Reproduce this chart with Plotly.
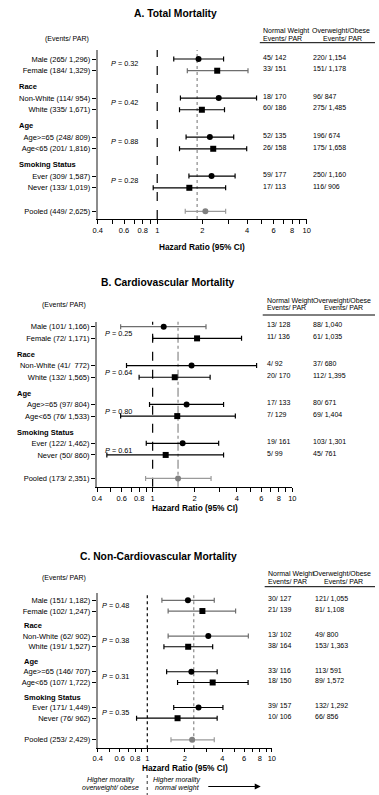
import math
import plotly.graph_objects as go

W, H = 379, 795
FONT = "Arial, 'Liberation Sans', sans-serif"

row_names = ["Male", "Female", "Non-White", "White", "Age>=65", "Age<65", "Ever", "Never", "Pooled"]
group_names = ["Sex", "Race", "Age", "Smoking Status"]
x_tick_vals = [0.4, 0.5, 0.6, 0.7, 0.8, 0.9, 1, 2, 3, 4, 5, 6, 7, 8, 9, 10]
x_tick_text = ["0.4", "", "0.6", "", "0.8", "", "1", "2", "", "4", "", "6", "", "8", "", "10"]

# ---------------- Panel A : Total mortality ----------------
A_title = "A. Total Mortality"
A_events = ["265/ 1,296", "184/ 1,329", "114/ 954", "335/ 1,671", "248/ 809",
            "201/ 1,816", "309/ 1,587", "133/ 1,019", "449/ 2,625"]
A_hr = [1.89, 2.52, 2.58, 1.99, 2.25, 2.37, 2.31, 1.64, 2.10]
A_lo = [1.29, 1.59, 1.43, 1.41, 1.56, 1.41, 1.63, 0.94, 1.54]
A_hi = [2.78, 4.05, 4.62, 2.82, 3.25, 3.97, 3.32, 2.87, 2.87]
A_p = ["0.32", "0.42", "0.88", "0.28"]
A_normal = ["45/ 142", "33/ 151", "18/ 170", "60/ 186", "52/ 135", "26/ 158", "59/ 177", "17/ 113"]
A_over = ["220/ 1,154", "151/ 1,178", "96/ 847", "275/ 1,485", "196/ 674", "175/ 1,658", "250/ 1,160", "116/ 906"]
A_ref = 1.85

# ---------------- Panel B : Cardiovascular mortality ----------------
B_title = "B. Cardiovascular Mortality"
B_events = ["101/ 1,166", "72/ 1,171", "41/  772", "132/ 1,565", "97/ 804",
            "76/ 1,533", "122/ 1,462", "50/ 860", "173/ 2,351"]
B_hr = [1.20, 2.08, 1.90, 1.44, 1.75, 1.50, 1.64, 1.24, 1.52]
B_lo = [0.59, 1.00, 0.65, 0.80, 0.95, 0.59, 0.90, 0.47, 0.89]
B_hi = [2.41, 4.33, 5.55, 2.58, 3.22, 3.91, 2.97, 3.22, 2.62]
B_p = ["0.25", "0.64", "0.80", "0.61"]
B_normal = ["13/ 128", "11/ 136", "4/ 92", "20/ 170", "17/ 133", "7/ 129", "19/ 161", "5/ 99"]
B_over = ["88/ 1,040", "61/ 1,035", "37/ 680", "112/ 1,395", "80/ 671", "69/ 1,404", "103/ 1,301", "45/ 761"]
B_ref = 1.52

# ---------------- Panel C : Non-cardiovascular mortality ----------------
C_title = "C. Non-Cardiovascular Mortality"
C_events = ["151/ 1,182", "102/ 1,247", "62/ 902", "191/ 1,527", "146/ 707",
            "107/ 1,722", "171/ 1,449", "76/ 962", "253/ 2,429"]
C_hr = [2.12, 2.77, 3.09, 2.13, 2.26, 3.35, 2.58, 1.75, 2.29]
C_lo = [1.31, 1.47, 1.47, 1.36, 1.43, 1.75, 1.63, 0.82, 1.55]
C_hi = [3.45, 5.12, 6.48, 3.35, 3.64, 6.45, 4.05, 3.64, 3.45]
C_p = ["0.48", "0.38", "0.31", "0.35"]
C_normal = ["30/ 127", "21/ 139", "13/ 102", "38/ 164", "33/ 116", "18/ 150", "39/ 157", "10/ 106"]
C_over = ["121/ 1,055", "81/ 1,108", "49/ 800", "153/ 1,363", "113/ 591", "89/ 1,572", "132/ 1,292", "66/ 856"]
C_ref = 2.36

panels_data = [
    (A_title, A_events, A_hr, A_lo, A_hi, A_p, A_normal, A_over, A_ref),
    (B_title, B_events, B_hr, B_lo, B_hi, B_p, B_normal, B_over, B_ref),
    (C_title, C_events, C_hr, C_lo, C_hi, C_p, C_normal, C_over, C_ref),
]

# ---------------- layout (pixel geometry of each panel) ----------------
panels_layout = [
    dict(xdom=(95, 309), ytop=50, ybot=219, row0=59, unit=11.72, title=(174.5, 14), hr_y=247,
         head_x=12, ev=(88.5, 39), p_x=106.5, p_off=0.35, col1=262.7, col2=313, over_c=344,
         hdr=(31, 38.8), rule=(261, 42.7), one_dash="dash", ref_dash="dot", gray_rows=[1], ticklen=4),
    dict(xdom=(94.3, 294.3), ytop=321.7, ybot=486.7, row0=326.7, unit=11.67, title=(166.7, 282.7), hr_y=508,
         head_x=10, ev=(85.5, 305), p_x=100.7, p_off=0.6, col1=266, col2=313.3, over_c=345,
         hdr=(300.7, 307.8), rule=(264, 315), one_dash="dash", ref_dash="dashdot", gray_rows=[0], ticklen=4),
    dict(xdom=(95, 273.3), ytop=592.7, ybot=748.3, row0=600.3, unit=10.73, title=(157.7, 556), hr_y=767.5,
         head_x=17, ev=(85.5, 578.3), p_x=97.5, p_off=0.45, col1=267.3, col2=316, over_c=345,
         hdr=(574, 581.3), rule=(266, 586.7), one_dash="dot", ref_dash="dot", gray_rows=[0, 1, 2], ticklen=3),
]

# row positions (in row units): pairs within a group 1 apart, groups 3.33 apart, pooled last
GROUP_STEP = 3.33
POOLED_GAP = 2.01
row_pos = []
for g in range(4):
    row_pos += [g * GROUP_STEP, g * GROUP_STEP + 1]
row_pos.append(row_pos[-1] + POOLED_GAP)
symbols = ["circle", "square"] * 4 + ["circle"]


def px(x):
    return x / W


def py(y):
    return 1 - y / H


fig = go.Figure()
annotations = []
shapes = []
layout_axes = {}

for i, (data, geo) in enumerate(zip(panels_data, panels_layout)):
    title, events, hr, lo, hi, pvals, normal, over, ref = data
    sfx = "" if i == 0 else str(i + 1)
    xname, yname = "x" + sfx, "y" + sfx
    labels = [f"{n} ({e})" for n, e in zip(row_names, events)]

    for r in range(len(hr)):
        pooled = r == len(hr) - 1
        if pooled:
            lc, mc, ms = "#9a9a9a", "#808080", 6
        elif r in geo["gray_rows"]:
            lc, mc, ms = "#6e6e6e", "black", 6
        else:
            lc, mc, ms = "black", "black", 6
        fig.add_trace(go.Scatter(
            x=[hr[r]], y=[row_pos[r]], mode="markers",
            marker=dict(symbol=symbols[r], size=ms, color=mc),
            error_x=dict(type="data", symmetric=False, array=[hi[r] - hr[r]],
                         arrayminus=[hr[r] - lo[r]], color=lc, thickness=1.2, width=2.5),
            xaxis=xname, yaxis=yname, showlegend=False, cliponaxis=False, hoverinfo="skip"))

    top_u = (geo["ytop"] - geo["row0"]) / geo["unit"]
    bot_u = (geo["ybot"] - geo["row0"]) / geo["unit"]
    layout_axes["xaxis" + sfx] = dict(
        type="log", range=[math.log10(0.4), math.log10(10)],
        domain=[px(geo["xdom"][0]), px(geo["xdom"][1])], anchor=yname,
        showline=True, linecolor="black", linewidth=1.2, ticks="outside", ticklen=geo["ticklen"],
        tickwidth=1, tickcolor="black", tickvals=x_tick_vals, ticktext=x_tick_text,
        tickfont=dict(size=7.5, color="black"), showgrid=False, zeroline=False, fixedrange=True)
    layout_axes["yaxis" + sfx] = dict(
        range=[bot_u, top_u], domain=[py(geo["ybot"]), py(geo["ytop"])], anchor=xname,
        showline=True, linecolor="#8c8c8c", linewidth=2, ticks="outside", ticklen=4,
        tickwidth=1, tickcolor="black", tickvals=row_pos, ticktext=labels,
        tickfont=dict(size=7.5, color="black"), showgrid=False, zeroline=False, fixedrange=True)

    # reference lines
    shapes.append(dict(type="line", xref=xname, yref=yname + " domain", x0=1, x1=1, y0=0, y1=1,
                       line=dict(color="black", width=1.2, dash=geo["one_dash"]), layer="below"))
    shapes.append(dict(type="line", xref=xname, yref=yname + " domain", x0=ref, x1=ref, y0=0, y1=1,
                       line=dict(color="#9a9a9a", width=1.4, dash=geo["ref_dash"]), layer="below"))

    # title
    annotations.append(dict(text=f"<b>{title}</b>", x=px(geo["title"][0]), y=py(geo["title"][1]),
                            xref="paper", yref="paper", showarrow=False, xanchor="center",
                            yanchor="middle", font=dict(size=10.3, color="black")))
    # x-axis title
    xc = (geo["xdom"][0] + geo["xdom"][1]) / 2
    annotations.append(dict(text="<b>Hazard Ratio (95% CI)</b>", x=px(xc), y=py(geo["hr_y"]),
                            xref="paper", yref="paper", showarrow=False, xanchor="center",
                            yanchor="middle", font=dict(size=8.3, color="black")))
    # (Events/ PAR)
    annotations.append(dict(text="(Events/ PAR)", x=px(geo["ev"][0]), y=py(geo["ev"][1]),
                            xref="paper", yref="paper", showarrow=False, xanchor="right",
                            yanchor="middle", font=dict(size=7, color="black")))
    # group headers and P values
    for g, gname in enumerate(group_names):
        first = row_pos[2 * g]
        annotations.append(dict(text=f"<b>{gname}</b>", x=px(geo["head_x"]), y=first - 0.95,
                                xref="paper", yref=yname, showarrow=False, xanchor="left",
                                yanchor="middle", font=dict(size=7.5, color="black")))
        annotations.append(dict(text=f"<i>P</i> = {pvals[g]}", x=px(geo["p_x"]), y=first + geo["p_off"],
                                xref="paper", yref=yname, showarrow=False, xanchor="left",
                                yanchor="middle", font=dict(size=7.3, color="black")))
    # right-hand columns
    annotations.append(dict(text="Normal Weight", x=px(geo["col1"]), y=py(geo["hdr"][0]), xref="paper",
                            yref="paper", showarrow=False, xanchor="left", yanchor="middle",
                            font=dict(size=7, color="black")))
    annotations.append(dict(text="Events/ PAR", x=px(geo["col1"]), y=py(geo["hdr"][1]), xref="paper",
                            yref="paper", showarrow=False, xanchor="left", yanchor="middle",
                            font=dict(size=7, color="black")))
    annotations.append(dict(text="Overweight/Obese", x=px(geo["over_c"]), y=py(geo["hdr"][0]), xref="paper",
                            yref="paper", showarrow=False, xanchor="center", yanchor="middle",
                            font=dict(size=7, color="black")))
    annotations.append(dict(text="Events/ PAR", x=px(geo["over_c"] + 1.5), y=py(geo["hdr"][1]), xref="paper",
                            yref="paper", showarrow=False, xanchor="center", yanchor="middle",
                            font=dict(size=7, color="black")))
    shapes.append(dict(type="line", xref="paper", yref="paper", x0=px(geo["rule"][0]), x1=1,
                       y0=py(geo["rule"][1]), y1=py(geo["rule"][1]), line=dict(color="black", width=1)))
    for r in range(len(normal)):
        annotations.append(dict(text=normal[r], x=px(geo["col1"]), y=row_pos[r] - 0.15, xref="paper",
                                yref=yname, showarrow=False, xanchor="left", yanchor="middle",
                                font=dict(size=7, color="black")))
        annotations.append(dict(text=over[r], x=px(geo["col2"]), y=row_pos[r] - 0.15, xref="paper",
                                yref=yname, showarrow=False, xanchor="left", yanchor="middle",
                                font=dict(size=7, color="black")))

# bottom explanatory legend under panel C
for txt, cx, cy in [("Higher morality", 108.5, 780), ("overweight/ obese", 108.5, 788),
                    ("Higher morality", 176.5, 780), ("normal weight", 177, 788)]:
    annotations.append(dict(text=f"<i>{txt}</i>", x=px(cx), y=py(cy), xref="paper", yref="paper",
                            showarrow=False, xanchor="center", yanchor="middle",
                            font=dict(size=7, color="black")))
shapes.append(dict(type="line", xref="paper", yref="paper", x0=px(145.7), x1=px(145.7),
                   y0=py(775), y1=py(795), line=dict(color="#555555", width=1.2, dash="dot")))
annotations.append(dict(text="", x=px(262), y=py(786.5), xref="paper", yref="paper", showarrow=True,
                        ax=-54, ay=0, arrowhead=2, arrowsize=1.1, arrowwidth=1.1, arrowcolor="black"))

fig.update_layout(
    width=W, height=H, autosize=False,
    margin=dict(l=0, r=0, t=0, b=0, pad=0),
    paper_bgcolor="white", plot_bgcolor="white",
    font=dict(family=FONT, color="black", size=7.5),
    annotations=annotations, shapes=shapes, showlegend=False,
    **layout_axes,
)

fig.write_html("out.html", post_script="document.body.style.margin='0';",
               config={"displayModeBar": False})
